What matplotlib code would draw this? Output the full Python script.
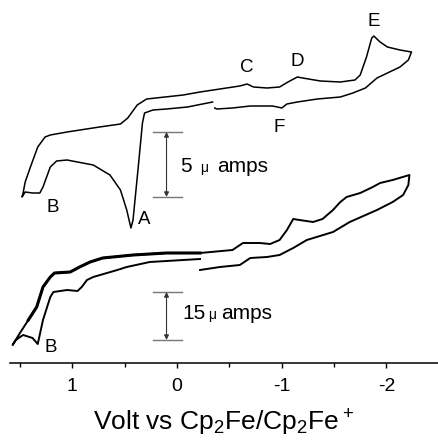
import matplotlib
matplotlib.use("Agg")
import matplotlib.pyplot as plt

plt.rcParams['font.family'] = ['Liberation Sans', 'DejaVu Sans']
plt.rcParams['mathtext.default'] = 'regular'
plt.rcParams['axes.unicode_minus'] = False

# upper voltammogram (5 uA scale), potential in V, signal in plot units
top_v = [-0.36, -0.38, -0.53, -0.70, -0.91, -0.96, -1.00, -1.05, -1.15, -1.34,
         -1.56, -1.68, -1.80, -1.91, -2.01, -2.13, -2.21, -2.24, -2.13, -2.01,
         -1.94, -1.88, -1.86, -1.81, -1.75, -1.70, -1.56, -1.37, -1.20, -1.15,
         -1.06, -0.98, -0.86, -0.73, -0.67, -0.60, -0.41, -0.22, -0.06, 0.29,
         0.38, 0.47, 0.54, 0.74, 1.05, 1.21, 1.26, 1.33, 1.40, 1.45,
         1.47, 1.48, 1.45, 1.38, 1.31, 1.28, 1.21, 1.15, 1.05, 0.80,
         0.64, 0.54, 0.48, 0.44, 0.42, 0.37, 0.33, 0.31, 0.23, 0.10,
         -0.10, -0.34]
top_i = [255, 254, 255, 257, 257, 256, 255, 259, 261, 264,
         266, 270, 275, 285, 290, 296, 303, 311, 313, 316,
         321, 327, 325, 306, 288, 283, 281, 282, 285, 286,
         281, 276, 275, 276, 279, 277, 274, 271, 268, 264,
         258, 245, 239, 236, 231, 228, 226, 216, 196, 181,
         170, 166, 171, 170, 170, 176, 196, 202, 203, 198,
         188, 173, 153, 135, 143, 196, 240, 250, 253, 254,
         256, 261]

# lower voltammogram (15 uA scale)
bot_v = [-0.22, -0.41, -0.60, -0.70, -0.86, -0.98, -1.11, -1.24, -1.49, -1.65,
         -1.91, -2.06, -2.16, -2.21, -2.22, -2.06, -1.94, -1.87, -1.75, -1.62,
         -1.56, -1.49, -1.39, -1.30, -1.17, -1.11, -1.05, -0.98, -0.89, -0.79,
         -0.63, -0.53, -0.22, 0.10, 0.42, 0.71, 0.83, 0.93, 1.02, 1.17,
         1.21, 1.28, 1.34, 1.42, 1.50, 1.57, 1.54, 1.47, 1.38, 1.33,
         1.28, 1.21, 1.18, 1.05, 0.95, 0.91, 0.86, 0.80, 0.57, 0.48,
         0.26, -0.22]
bot_i = [93, 96, 98, 105, 106, 108, 115, 123, 131, 141,
         153, 161, 168, 178, 188, 183, 180, 176, 170, 166,
         161, 153, 144, 141, 143, 144, 133, 123, 119, 120,
         120, 113, 110, 110, 108, 105, 101, 96, 91, 90,
         86, 76, 56, 43, 30, 18, 23, 28, 25, 19,
         43, 66, 71, 73, 72, 76, 83, 86, 93, 96,
         101, 104]

peak_names = ['A', 'B', 'C', 'D', 'E', 'F', 'B']
peak_v = [0.31, 1.19, -0.67, -1.15, -1.88, -0.98, 1.21]
peak_i = [143, 155, 295, 301, 341, 236, 16]

fig = plt.figure(figsize=(4.38, 4.41), dpi=100)
ax = fig.add_axes([10/438, 78/441, 428/438, 363/441])
ax.set_xlim(1.595, -2.493)
ax.set_ylim(0, 363)

ax.plot(top_v, top_i, color='black', lw=1.1, solid_joinstyle='round')
ax.plot(bot_v, bot_i, color='black', lw=1.4, solid_joinstyle='round')
# the overlapping repeat scans make the left part of the lower trace look heavier
ax.plot(bot_v[32:44], bot_i[32:44], color='black', lw=2.2, solid_joinstyle='round')

for name, v, i in zip(peak_names, peak_v, peak_i):
    ax.text(v, i, name, fontsize=13.5, ha='center', va='center')

# scale bars
def scale_bar(y0, y1, num, x_num, x_mu, x_amps, y_base):
    ax.plot([0.23, -0.05], [y0, y0], color='#777777', lw=1)
    ax.plot([0.23, -0.05], [y1, y1], color='#777777', lw=1)
    for y in (y0, y1):
        ax.annotate('', xy=(0.10, y), xytext=(0.10, (y0 + y1) / 2),
                    arrowprops=dict(arrowstyle='-|>', color='#333333', lw=0.8,
                                    mutation_scale=7, shrinkA=0, shrinkB=0))
    ax.text(x_num, y_base, num, fontsize=15, ha='left', va='baseline')
    ax.text(x_mu, y_base, '\u03bc', fontsize=10, ha='left', va='baseline')
    ax.text(x_amps, y_base, 'amps', fontsize=15, ha='left', va='baseline')

scale_bar(231, 166, '5', -0.03, -0.22, -0.38, 191)
scale_bar(71, 23, '15', -0.05, -0.30, -0.42, 44)

for s in ['top', 'left', 'right']:
    ax.spines[s].set_visible(False)
ax.spines['bottom'].set_linewidth(1.1)
ax.set_yticks([])
ax.set_xticks([1, 0, -1, -2])
ax.set_xticks([1.5, 0.5, -0.5, -1.5], minor=True)
ax.tick_params(axis='x', which='major', direction='out', length=3.6, width=1, pad=7, labelsize=14)
ax.tick_params(axis='x', which='minor', direction='out', length=3, width=1)

fig.text(223/438, 1 - 423/441, 'Volt vs Cp$_2$Fe/Cp$_2$Fe$^+$', fontsize=19,
         ha='center', va='center')

fig.savefig('out.png', dpi=100)
